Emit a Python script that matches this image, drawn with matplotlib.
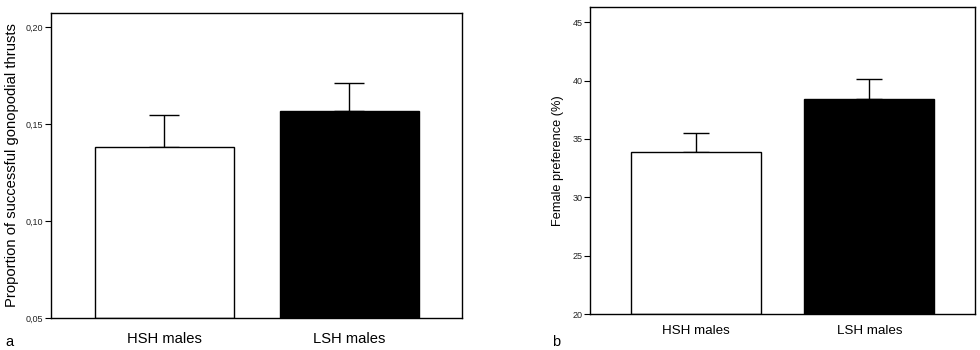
import matplotlib
matplotlib.use("Agg")
import matplotlib.pyplot as plt

plt.rcParams['font.family'] = ['Liberation Sans', 'DejaVu Sans']

groups = ["HSH males", "LSH males"]
bar_colors = ["white", "black"]

# Panel a: proportion of successful gonopodial thrusts
prop_means = [0.138, 0.157]
prop_se = [0.017, 0.0145]
prop_ticks = [0.05, 0.10, 0.15, 0.20]
prop_ticklabels = ["0,05", "0,10", "0,15", "0,20"]

# Panel b: female preference (%)
pref_means = [33.9, 38.4]
pref_se = [1.65, 1.7]
pref_ticks = [20, 25, 30, 35, 40, 45]
pref_ticklabels = ["20", "25", "30", "35", "40", "45"]

fig = plt.figure(figsize=(9.8, 3.5), dpi=100)

def panel(rect, means, se, ylim, ticks, ticklabels, ylabel, capsize,
          ylabel_size, xlabel_size, xpad, ylpad):
    ax = fig.add_axes(rect)
    x = list(range(len(groups)))
    ax.bar(x, [m - ylim[0] for m in means], bottom=ylim[0], width=0.75,
           color=bar_colors, edgecolor="black", linewidth=1.0, zorder=2)
    ax.errorbar(x, means, yerr=[[0] * len(se), se], fmt="none", ecolor="black",
                elinewidth=1.0, capsize=capsize, capthick=1.0, zorder=1)
    ax.set_xlim(-0.614, 1.61)
    ax.set_ylim(*ylim)
    ax.set_xticks(x)
    ax.set_xticklabels(groups, fontsize=xlabel_size)
    ax.tick_params(axis="x", length=0, pad=xpad)
    ax.set_yticks(ticks)
    ax.set_yticklabels(ticklabels, fontsize=6.5, color="#222222")
    ax.tick_params(axis="y", length=4.5, width=0.8, pad=1)
    ax.set_ylabel(ylabel, fontsize=ylabel_size, labelpad=ylpad)
    for s in ax.spines.values():
        s.set_linewidth(1.0)
    return ax

ax1 = panel([51 / 980, 32 / 350, 411 / 980, 305 / 350], prop_means, prop_se,
            (0.05, 0.2074), prop_ticks, prop_ticklabels,
            "Proportion of successful gonopodial thrusts", 11, 10.6, 10.6, 10, 5)
ax2 = panel([590 / 980, 36 / 350, 385 / 980, 307.3 / 350], pref_means, pref_se,
            (20, 46.34), pref_ticks, pref_ticklabels,
            "Female preference (%)", 9.6, 9.2, 9.6, 8, 6)

fig.text(5 / 980, 1 - 342 / 350, "a", fontsize=10.5, va="center", ha="left")
fig.text(552 / 980, 1 - 342 / 350, "b", fontsize=10.5, va="center", ha="left")

fig.savefig("out.png", dpi=100)
